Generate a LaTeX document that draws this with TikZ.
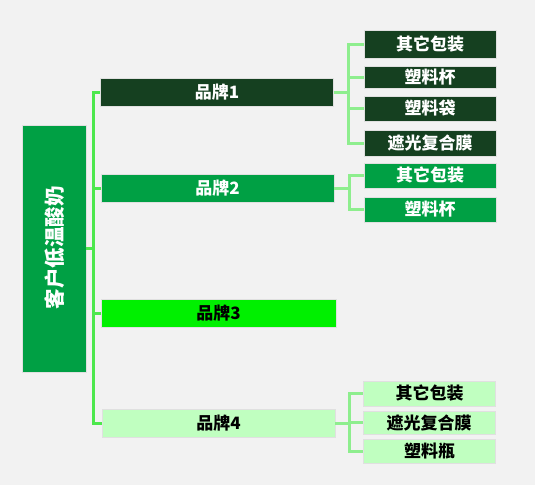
\documentclass[tikz,border=0pt]{standalone}
\usepackage{fontspec}
\newfontfamily\cjk{Noto Sans CJK SC}
\definecolor{bgray}{HTML}{F2F2F2}
\definecolor{darkg}{HTML}{154020}
\definecolor{midg}{HTML}{00A044}
\definecolor{brightg}{HTML}{00F000}
\definecolor{paleg}{HTML}{C0FFC0}
\definecolor{trunkg}{HTML}{4DE84D}
\definecolor{twigg}{HTML}{8EEE8E}

\tikzset{
  box/.style={draw=white!88!black, line width=0.6pt, inner sep=0pt,
              font=\cjk\bfseries\fontsize{17}{17}\selectfont},
  brand/.style={box, minimum width=233pt, minimum height=28pt},
  leaf/.style={box, minimum width=132pt, minimum height=25pt},
  trunk/.style={draw=trunkg, line width=3pt},
  twig/.style={draw=twigg, line width=3pt}
}

\begin{document}
\begin{tikzpicture}[x=1pt,y=-1pt]

   \fill[bgray] (0,0) rectangle (535,485);
   \useasboundingbox (0,0) rectangle (535,485);

   % root
   \node[box, fill=midg, text=white, minimum width=64pt, minimum height=247pt] (root) at (54,248.5) {};
   \node[rotate=90, text=white, font=\cjk\bfseries\fontsize{20.5}{20.5}\selectfont] (roottxt) at (54.5,247.5) {客户低温酸奶};
   \coordinate (t) at (93,248.5);

   % brands
   \node[brand, fill=darkg, text=white] (b1) at (217,92) {品牌1};
   \node[brand, fill=midg, text=white] (b2) at (217.5,188) {品牌2};
   \node[brand, fill=brightg, text=black, minimum width=235pt] (b3) at (218.5,313) {品牌3};
   \node[brand, fill=paleg, text=black] (b4) at (218.5,423) {品牌4};

   % leaves of brand 1
   \node[leaf, fill=darkg, text=white, minimum height=28pt] (l11) at (430,44) {其它包装};
   \node[leaf, fill=darkg, text=white, minimum height=22pt] (l12) at (430,77) {塑料杯};
   \node[leaf, fill=darkg, text=white] (l13) at (430,108.5) {塑料袋};
   \node[leaf, fill=darkg, text=white, minimum height=26pt] (l14) at (430,143) {遮光复合膜};

   % leaves of brand 2
   \node[leaf, fill=midg, text=white] (l21) at (430,175.5) {其它包装};
   \node[leaf, fill=midg, text=white] (l22) at (430,209.5) {塑料杯};

   % leaves of brand 4
   \node[leaf, fill=paleg, text=black] (l41) at (429.5,393.5) {其它包装};
   \node[leaf, fill=paleg, text=black, minimum height=23pt] (l42) at (429,422.5) {遮光复合膜};
   \node[leaf, fill=paleg, text=black, minimum height=24pt] (l43) at (429.5,451) {塑料瓶};

   % trunk
   \draw[trunk] (root.east) -- (t);
   \draw[trunk] (b1.west) -| (t) |- (b4.west);
   \draw[trunk] (t) |- (b2.west);
   \draw[trunk] (t) |- (b3.west);

   % twigs
   \draw[twig] (b1.east) -- +(15,0) |- (l11.west);
   \draw[twig] (b1.east) -- +(15,0) |- (l12.west);
   \draw[twig] (b1.east) -- +(15,0) |- (l13.west);
   \draw[twig] (b1.east) -- +(15,0) |- (l14.west);

   \draw[twig] (b2.east) -- +(15,0) |- (l21.west);
   \draw[twig] (b2.east) -- +(15,0) |- (l22.west);

   \draw[twig] (b4.east) -- +(14,0) |- (l41.west);
   \draw[twig] (b4.east) -- +(14,0) |- (l42.west);
   \draw[twig] (b4.east) -- +(14,0) |- (l43.west);

\end{tikzpicture}
\end{document}
